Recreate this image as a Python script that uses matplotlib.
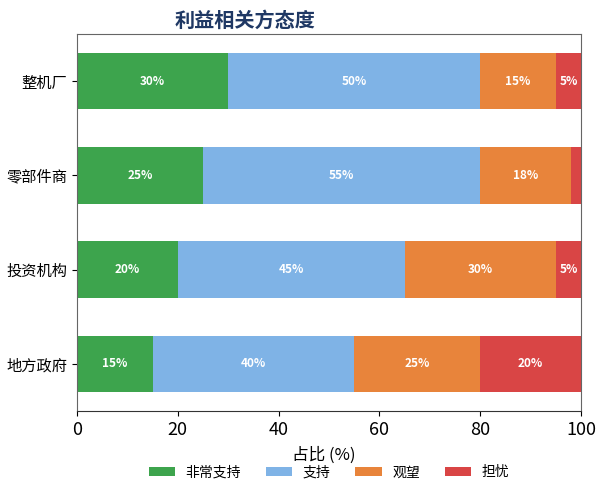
import matplotlib
matplotlib.use("Agg")
import matplotlib.pyplot as plt
import numpy as np

plt.rcParams['font.family'] = ['Noto Sans CJK SC', 'DejaVu Sans']

# 数据
categories = ['整机厂', '零部件商', '投资机构', '地方政府']
series_names = ['非常支持', '支持', '观望', '担忧']
very_support = [30, 25, 20, 15]
support = [50, 55, 45, 40]
wait_see = [15, 18, 30, 25]
worry = [5, 2, 5, 20]
colors = ['#3DA44D', '#7FB3E6', '#E8843B', '#D94545']

fig = plt.figure(figsize=(6.05, 4.8), dpi=100)
ax = fig.add_axes([0.1273, 0.1438, 0.8331, 0.7854])

y = np.arange(len(categories))[::-1]
left = np.zeros(len(categories))
for name, vals, c in zip(series_names, [very_support, support, wait_see, worry], colors):
    vals = np.array(vals, dtype=float)
    bars = ax.barh(y, vals, left=left, height=0.6, color=c, label=name)
    # 太窄的块不标数字
    for b, v in zip(bars, vals):
        if v >= 5:
            ax.text(b.get_x() + b.get_width() / 2, b.get_y() + b.get_height() / 2,
                    f'{int(v)}%', ha='center', va='center', color='white',
                    fontsize=8.5, fontweight='bold')
    left += vals

ax.set_xlim(0, 100)
ax.set_ylim(-0.5, 3.5)
ax.set_yticks(y)
ax.set_yticklabels(categories, fontsize=11)
ax.set_xticks([0, 20, 40, 60, 80, 100])
ax.tick_params(axis='x', labelsize=13)
for s in ax.spines.values():
    s.set_color('#666666')
ax.spines['bottom'].set_color('#333333')

ax.set_title('利益相关方态度', fontsize=14.5, fontweight='bold', color='#1F3864',
             x=0.333, pad=5)
ax.set_xlabel('占比 (%)', fontsize=12)
ax.xaxis.set_label_coords(0.49, -0.094)

ax.legend(loc='center', bbox_to_anchor=(0.5, -0.163), ncol=4, frameon=False,
          fontsize=10, handlelength=1.9, handleheight=0.55, handletextpad=0.75,
          columnspacing=1.8)

fig.savefig('out.png', dpi=100)
